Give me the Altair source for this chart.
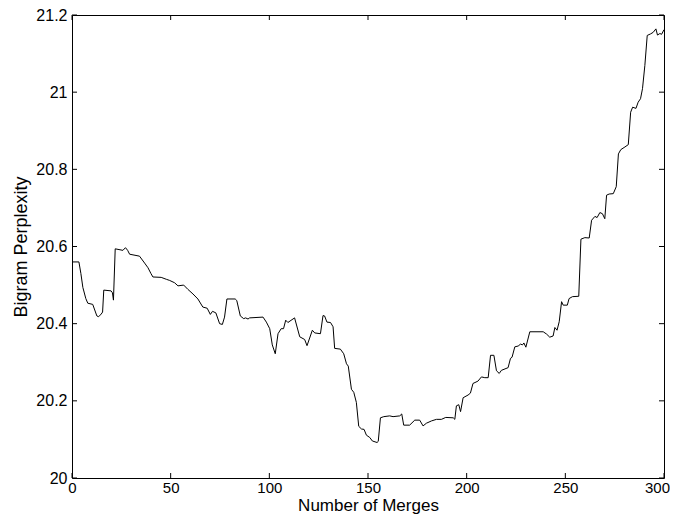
import altair as alt
import pandas as pd

merges = [0, 3.5, 4.5, 5.5, 7, 8, 10.5, 12.6, 13.5, 14.8, 15.5, 16.1, 19.8, 20.5, 21, 21.9,
          25.8, 27.1, 28.2, 29.2, 34.2, 36.8, 38.5, 40, 41, 45.2, 47.8, 49.5, 52, 53.7,
          56.6, 58.7, 61.3, 63.8, 66.3, 68.5, 70.1, 71.2, 72.9, 74.8, 76.2, 77.3, 78.5,
          82.7, 83.5, 85.3, 87, 88, 89.2, 90, 96.8, 98.5, 100.2, 101.5, 103, 104.4, 106,
          107.2, 108.3, 109.4, 112.8, 115.4, 117.9, 119.1, 121.8, 123, 125.9, 127.2, 128,
          129.2, 131, 132.3, 133.1, 136, 137.7, 139.1, 140, 141.6, 142.8, 144.1, 145.3,
          146.7, 148, 149.2, 150.9, 152.2, 154.6, 155.2, 156.3, 158, 161, 162.7, 166.1,
          167.1, 168.1, 171.1, 173.7, 176.2, 177.9, 179.6, 182.2, 184.7, 187.2, 189.4,
          193.2, 194, 194.8, 196, 196.9, 198.2, 200.7, 201.9, 203.2, 205.7, 207.5, 209.2,
          210.9, 212.1, 213.8, 215.1, 216.5, 217.6, 221, 222.2, 223, 224.4, 226.1, 227.3,
          228.3, 229, 230, 232, 238.8, 240.5, 242.1, 243.8, 244.7, 245.8, 246.9, 248.1,
          248.9, 251, 251.9, 253.6, 256.8, 257.9, 259.9, 262.1, 263.3, 265, 266.1, 267.5,
          268.8, 270, 270.9, 272.2, 274.3, 275.8, 276.9, 278.1, 280.2, 281.9, 283.1, 284.1,
          285.8, 286.9, 288.1, 289.1, 290.3, 291.5, 293.2, 294.5, 295.9, 296.7, 297.9,
          298.8, 300]

perplexity = [20.56, 20.56, 20.53, 20.494, 20.465, 20.453, 20.45, 20.42, 20.418, 20.425,
              20.43, 20.487, 20.485, 20.48, 20.461, 20.594, 20.59, 20.597, 20.59, 20.58,
              20.575, 20.557, 20.545, 20.53, 20.521, 20.52, 20.515, 20.512, 20.506, 20.498,
              20.50, 20.489, 20.477, 20.464, 20.443, 20.44, 20.424, 20.432, 20.428, 20.40,
              20.398, 20.417, 20.464, 20.464, 20.46, 20.42, 20.413, 20.415, 20.412, 20.415,
              20.417, 20.404, 20.387, 20.345, 20.322, 20.374, 20.387, 20.387, 20.409, 20.403,
              20.415, 20.366, 20.359, 20.343, 20.383, 20.376, 20.374, 20.421, 20.42, 20.404,
              20.403, 20.392, 20.336, 20.334, 20.322, 20.296, 20.29, 20.23, 20.222, 20.196,
              20.134, 20.127, 20.126, 20.111, 20.105, 20.096, 20.092, 20.095, 20.156, 20.159,
              20.161, 20.159, 20.161, 20.166, 20.137, 20.137, 20.15, 20.15, 20.135, 20.142,
              20.148, 20.152, 20.152, 20.157, 20.156, 20.152, 20.187, 20.19, 20.172, 20.208,
              20.215, 20.22, 20.245, 20.251, 20.262, 20.26, 20.26, 20.318, 20.318, 20.278,
              20.271, 20.279, 20.286, 20.31, 20.313, 20.34, 20.342, 20.347, 20.345, 20.35,
              20.339, 20.379, 20.379, 20.373, 20.365, 20.368, 20.39, 20.383, 20.405, 20.457,
              20.448, 20.448, 20.465, 20.47, 20.471, 20.619, 20.623, 20.622, 20.668, 20.678,
              20.675, 20.688, 20.685, 20.672, 20.733, 20.736, 20.737, 20.755, 20.84, 20.851,
              20.858, 20.864, 20.948, 20.961, 20.958, 20.974, 20.983, 21.009, 21.069, 21.147,
              21.151, 21.155, 21.164, 21.148, 21.152, 21.15, 21.162]

x_ticks = [0, 50, 100, 150, 200, 250, 300]
y_ticks = [20.0, 20.2, 20.4, 20.6, 20.8, 21.0, 21.2]

W, H = 592, 463
FONT = "Liberation Sans"

df = pd.DataFrame({"merges": merges, "perplexity": perplexity})
xs = alt.Scale(domain=[0, 300], nice=False, zero=False)
ys = alt.Scale(domain=[20, 21.2], nice=False, zero=False)

x_axis = alt.Axis(values=x_ticks, title="Number of Merges", tickSize=0,
                  labelFlush=False, labelPadding=2, format="d", labelFontSize=15,
                  labelOffset={"condition": {"test": "datum.value === 300", "value": -7}, "value": 0},
                  grid=False, domain=False, titleY=32.5, titleBaseline="alphabetic",
                  titleFontSize=17)
y_axis = alt.Axis(values=y_ticks, title="Bigram Perplexity", tickSize=0,
                  labelFlush=False, labelPadding=5, format=".1~f",
                  grid=False, domain=False, titleX=-46, titleBaseline="alphabetic")

X = alt.X("merges:Q", scale=xs, axis=x_axis, title="Number of Merges")
Y = alt.Y("perplexity:Q", scale=ys, axis=y_axis, title="Bigram Perplexity")

line = alt.Chart(df).mark_line(color="black", strokeWidth=1).encode(x=X, y=Y)

xt = pd.DataFrame({"merges": x_ticks})
yt = pd.DataFrame({"perplexity": y_ticks})

xtick_bottom = alt.Chart(xt).mark_rule(color="black", strokeWidth=1).encode(
    x=X, y=alt.value(H), y2=alt.value(H - 5))
xtick_top = alt.Chart(xt).mark_rule(color="black", strokeWidth=1).encode(
    x=X, y=alt.value(0), y2=alt.value(5))
ytick_left = alt.Chart(yt).mark_rule(color="black", strokeWidth=1).encode(
    y=Y, x=alt.value(0), x2=alt.value(5))
ytick_right = alt.Chart(yt).mark_rule(color="black", strokeWidth=1).encode(
    y=Y, x=alt.value(W), x2=alt.value(W - 5))

chart = alt.layer(line, xtick_bottom, xtick_top, ytick_left, ytick_right).properties(
    width=W, height=H,
    autosize=alt.AutoSizeParams(type="none"),
    padding={"left": 64, "top": 7, "right": 6, "bottom": 36},
).configure_view(
    stroke="black", strokeWidth=1
).configure_axis(
    labelFont=FONT, titleFont=FONT, labelFontSize=16, titleFontSize=18,
    labelColor="black", titleColor="black", titleFontWeight="normal",
)

chart.save("out.html", embed_options={"renderer": "svg", "actions": False})
